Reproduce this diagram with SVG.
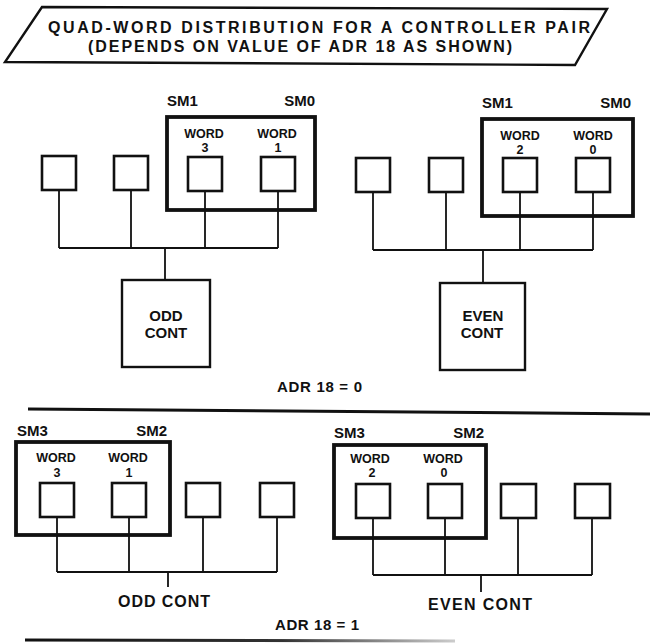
<svg xmlns="http://www.w3.org/2000/svg" width="652" height="644" viewBox="0 0 652 644">
<style>
text{font-family:"Liberation Sans",Arial,sans-serif;font-weight:bold;fill:#111}
.t{font-size:16px}
.sm{font-size:15px}
.w{font-size:12.5px;text-anchor:middle}
.c{font-size:15px;text-anchor:middle}
.thick{fill:none;stroke:#111;stroke-width:3.8}
.box{fill:none;stroke:#111;stroke-width:2.6}
.cb{fill:none;stroke:#111;stroke-width:2.4}
.ln{fill:none;stroke:#111;stroke-width:1.8}
</style>
<defs>
<linearGradient id="fade" gradientUnits="userSpaceOnUse" x1="25" y1="0" x2="455" y2="0">
<stop offset="0" stop-color="#111"/><stop offset="0.6" stop-color="#333"/><stop offset="1" stop-color="#ccc"/>
</linearGradient>
</defs>
<g id="title">
<polygon points="42,7 607,9 575,65 5,62" fill="none" stroke="#111" stroke-width="2.4"/>
<text class="t" x="48" y="33" textLength="542" lengthAdjust="spacing">QUAD-WORD DISTRIBUTION FOR A CONTROLLER PAIR</text>
<text class="t" x="88" y="52" textLength="424" lengthAdjust="spacing">(DEPENDS ON VALUE OF ADR 18 AS SHOWN)</text>
</g>
<g id="connectors">
<path class="ln" d="M59,190V248M131,190V248M205,191V248M278,191V248M59,248H278M165,248V280"/>
<path class="ln" d="M373,192V250M446,192V250M520,192V250M593,192V250M373,250H593M483,250V283"/>
<path class="ln" d="M57,517V572M129,517V572M203,517V572M277,517V572M57,572H277M168,572V587"/>
<path class="ln" d="M373,518V575M445,518V575M518,518V575M592,518V575M373,575H592M481,575V592"/>
</g>
<g id="top-left">
<g id="sm-pair-top-left">
<rect class="thick" x="167" y="117" width="148" height="93"/>
<text class="sm" x="167" y="106">SM1</text>
<text class="sm" x="315" y="106" text-anchor="end">SM0</text>
<text class="w" x="204" y="138">WORD</text><text class="w" x="205" y="152">3</text>
<text class="w" x="277" y="138">WORD</text><text class="w" x="278" y="152">1</text>
</g>
<rect id="tl-m1" class="box" x="42" y="156" width="34" height="34"/>
<rect id="tl-m2" class="box" x="114" y="156" width="34" height="34"/>
<rect id="tl-m3" class="box" x="188" y="157" width="34" height="34"/>
<rect id="tl-m4" class="box" x="261" y="157" width="34" height="34"/>
<g id="odd-cont-top">
<rect class="cb" x="122" y="280" width="88" height="87"/>
<text class="c" x="166" y="321">ODD</text>
<text class="c" x="166" y="338">CONT</text>
</g>
</g>
<g id="top-right">
<g id="sm-pair-top-right">
<rect class="thick" x="482" y="119" width="151" height="97"/>
<text class="sm" x="482" y="108">SM1</text>
<text class="sm" x="631" y="108" text-anchor="end">SM0</text>
<text class="w" x="520" y="140">WORD</text><text class="w" x="520" y="154">2</text>
<text class="w" x="593" y="140">WORD</text><text class="w" x="593" y="154">0</text>
</g>
<rect id="tr-m1" class="box" x="356" y="158" width="34" height="34"/>
<rect id="tr-m2" class="box" x="429" y="158" width="34" height="34"/>
<rect id="tr-m3" class="box" x="503" y="158" width="34" height="34"/>
<rect id="tr-m4" class="box" x="576" y="158" width="34" height="34"/>
<g id="even-cont-top">
<rect class="cb" x="440" y="283" width="85" height="87"/>
<text class="c" x="483" y="321">EVEN</text>
<text class="c" x="482" y="338">CONT</text>
</g>
</g>
<text class="sm" x="277" y="392" textLength="85" lengthAdjust="spacing">ADR 18 = 0</text>
<line x1="28" y1="409" x2="650" y2="414" stroke="#111" stroke-width="3"/>
<g id="bottom-left">
<g id="sm-pair-bottom-left">
<rect class="thick" x="16" y="442" width="154" height="93"/>
<text class="sm" x="17" y="436">SM3</text>
<text class="sm" x="167" y="436" text-anchor="end">SM2</text>
<text class="w" x="56" y="462">WORD</text><text class="w" x="57" y="477">3</text>
<text class="w" x="128" y="462">WORD</text><text class="w" x="129" y="477">1</text>
</g>
<rect id="bl-m1" class="box" x="40" y="483" width="34" height="34"/>
<rect id="bl-m2" class="box" x="112" y="483" width="34" height="34"/>
<rect id="bl-m3" class="box" x="186" y="483" width="34" height="34"/>
<rect id="bl-m4" class="box" x="260" y="483" width="34" height="34"/>
<text id="odd-cont-bottom" class="t" x="118" y="607" textLength="92" lengthAdjust="spacing">ODD CONT</text>
</g>
<g id="bottom-right">
<g id="sm-pair-bottom-right">
<rect class="thick" x="334" y="445" width="152" height="93"/>
<text class="sm" x="334" y="438">SM3</text>
<text class="sm" x="484" y="438" text-anchor="end">SM2</text>
<text class="w" x="370" y="463">WORD</text><text class="w" x="372" y="477">2</text>
<text class="w" x="443" y="463">WORD</text><text class="w" x="444" y="477">0</text>
</g>
<rect id="br-m1" class="box" x="356" y="484" width="34" height="34"/>
<rect id="br-m2" class="box" x="428" y="484" width="34" height="34"/>
<rect id="br-m3" class="box" x="501" y="484" width="35" height="34"/>
<rect id="br-m4" class="box" x="575" y="484" width="35" height="34"/>
<text id="even-cont-bottom" class="t" x="428" y="610" textLength="104" lengthAdjust="spacing">EVEN CONT</text>
</g>
<text class="sm" x="275" y="630" textLength="84" lengthAdjust="spacing">ADR 18 = 1</text>
<line x1="25" y1="640" x2="455" y2="641" stroke="url(#fade)" stroke-width="3"/>
</svg>
